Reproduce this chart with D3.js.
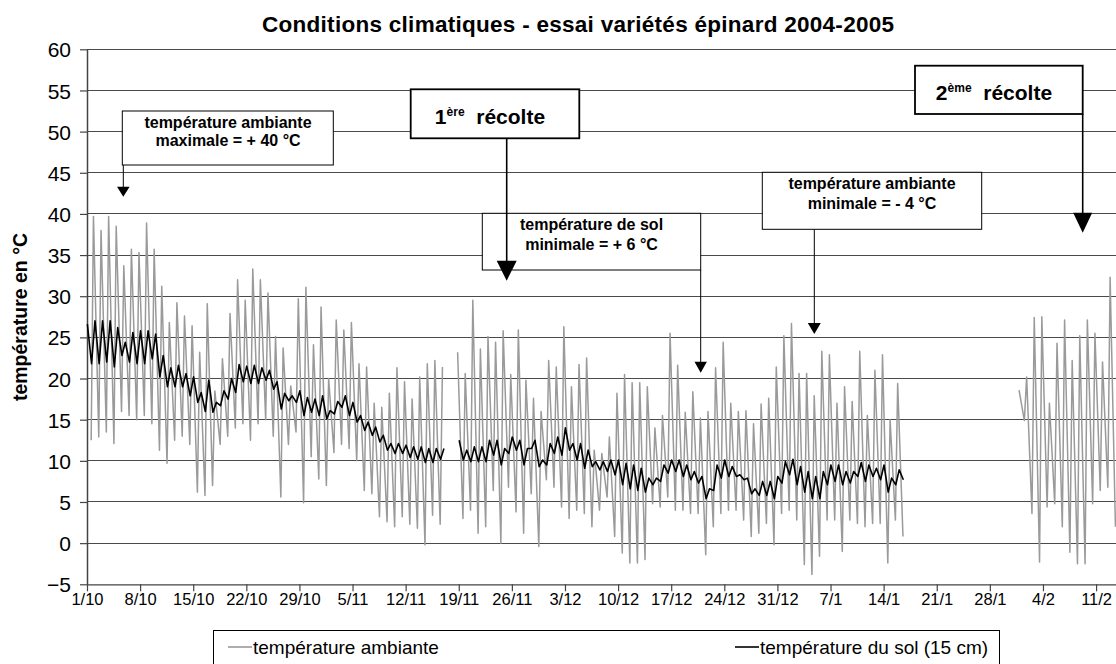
<!DOCTYPE html>
<html>
<head>
<meta charset="utf-8">
<script src="https://cdn.jsdelivr.net/npm/d3@7"></script>
<style>
  html, body { margin: 0; padding: 0; background: #fff; }
  svg { display: block; }
  text { font-family: "Liberation Sans", Arial, Helvetica, sans-serif; }
</style>
</head>
<body>
<svg id="chart" width="1116" height="664"></svg>
<script>
// ---------------- DATA ----------------
// x-axis week labels (one every 7 days starting 1/10)
const weekLabels = ["1/10","8/10","15/10","22/10","29/10","5/11","12/11","19/11","26/11","3/12",
  "10/12","17/12","24/12","31/12","7/1","14/1","21/1","28/1","4/2","11/2"];
const yTicks = [-5,0,5,10,15,20,25,30,35,40,45,50,55,60];

// Ambient temperature: daily max / min, days 0..107 (day 0 = 1/10)
const ambStart1 = 0;
const ambMax1 = [
  39.7, 38.0, 39.7, 38.5, 33.7, 35.7, 35.3, 38.9, 35.7, 31.2,
  26.8, 29.2, 27.6, 26.4, 23.2, 29.1, 18.5, 22.4, 27.9, 32.0,
  29.5, 33.3, 32.0, 30.4, 25.1, 23.7, 19.1, 29.7, 31.1, 24.1,
  28.7, 20.0, 27.1, 25.9, 26.8, 21.8, 21.4, 17.0, 16.5, 18.2,
  21.3, 19.6, 17.5, 20.2, 21.8, 22.2, 21.4, null,
  23.2, 20.6, 29.5, 23.6, 25.1, 24.4, 25.8, 20.5, 25.9, 19.8,
  17.6, 16.0, 22.2, 21.4, 26.3, 19.0, 21.7, 22.5, 11.3, 10.9,
  12.9, 18.2, 20.5, 19.5, 19.5, 19.0, 14.0, 15.5, 25.5, 21.6,
  15.9, 18.4, 15.2, 16.0, 21.3, 24.4, 17.0, 16.0, 16.1, 14.5,
  16.9, 17.6, 21.4, 25.2, 26.7, 20.6, 20.6, 17.9, 23.3, 22.9,
  17.0, 19.0, 17.2, 23.3, 15.5, 21.0, 22.9, 15.0, 19.4, null
];
const ambMin1 = [
  12.5, 12.9, 13.5, 12.1, 16.0, 15.5, 15.0, 15.5, 14.5, 11.3,
  9.7, 12.5, 13.0, 12.0, 6.2, 5.8, 7.0, 12.0, 13.0, 14.0,
  14.5, 12.5, 14.5, 15.0, 13.0, 5.6, 12.0, 13.5, 4.9, 10.5,
  7.8, 7.0, 11.0, 12.0, 11.5, 10.0, 6.4, 6.0, 3.2, 2.6,
  2.0, 3.2, 2.3, 1.8, -0.2, 3.4, 2.3, null, null,
  3.0, 4.0, 1.2, 2.0, 6.4, 0.0, 6.8, 3.8, 1.2, 6.0,
  -0.4, 7.7, 6.8, 4.4, 3.0, 4.0, 3.6, 2.0, 4.0, 5.6,
  0.8, -1.2, -2.4, -2.4, -2.0, 4.8, 4.4, 5.6, 4.0, 4.0,
  3.6, 3.6, -1.4, 2.0, 3.6, 4.0, 4.0, 2.8, 0.8, 1.2,
  2.4, -0.2, 3.6, 4.0, 2.8, -2.6, -3.8, -1.6, 2.8, 2.8,
  -1.0, 2.8, 2.4, 2.0, 2.4, 2.4, -2.4, 2.8, 0.8
];
// Ambient temperature, second series of records (from day 122 = 30/1)
const ambStart2 = 122;
const ambMax2 = [18.6, 20.2, 27.4, 27.5, 17.0, 24.3, 27.1, 22.2, 25.2, 27.1, 25.5, 22.0, 32.3, null];
const ambMin2 = [null, 14.9, 3.6, -2.3, 4.4, 4.8, 2.0, -1.1, -2.5, -2.5, 4.8, 6.4, 6.8, 2.0];

// Soil temperature (15 cm): daily peak / trough, days 0..107
const soilStart = 0;
const soilMax = [
  26.6, 27.0, 27.0, 27.0, 26.2, 24.4, 25.6, 25.8, 25.8, 25.4,
  22.8, 21.3, 21.6, 20.6, 20.2, 18.3, 19.8, 17.1, 18.5, 20.0,
  21.7, 21.5, 21.6, 21.3, 21.0, 19.6, 18.2, 17.9, 18.5, 17.7,
  17.5, 17.9, 16.1, 17.2, 17.9, 17.1, 15.5, 14.7, 14.1, 13.1,
  12.1, 12.1, 11.9, 11.7, 11.7, 11.5, 11.5, 11.5, null,
  12.5, 11.3, 11.7, 11.7, 12.5, 12.5, 11.5, 12.9, 12.5, 11.5,
  12.5, 10.1, 12.1, 12.9, 14.0, 12.1, 12.1, 11.3, 9.9, 9.9,
  10.1, 10.1, 9.7, 9.5, 9.1, 7.9, 7.9, 9.5, 10.1, 10.1,
  9.5, 8.7, 8.1, 6.6, 9.5, 10.1, 9.3, 8.3, 7.9, 6.6,
  7.5, 7.5, 8.1, 9.9, 10.2, 9.3, 8.7, 8.1, 8.7, 9.5,
  9.5, 8.7, 8.7, 9.8, 9.5, 9.1, 9.5, 7.9, 8.9
];
const soilMin = [
  21.8, 21.8, 22.0, 21.4, 22.8, 22.0, 21.8, 21.8, 22.4, 20.2,
  19.0, 19.0, 19.0, 17.9, 17.1, 16.0, 15.9, 16.7, 17.5, 18.3,
  19.6, 19.4, 19.4, 19.8, 18.7, 16.3, 17.3, 17.1, 15.5, 15.9,
  15.5, 15.1, 15.7, 16.5, 15.5, 14.7, 13.7, 13.1, 12.3, 11.3,
  10.9, 10.9, 10.4, 10.2, 9.8, 9.8, 10.2, null, null,
  10.1, 9.9, 9.9, 9.9, 10.7, 9.5, 10.9, 11.3, 9.5, 11.5,
  9.3, 9.5, 10.9, 10.7, 11.3, 10.1, 9.1, 9.3, 8.9, 8.7,
  8.3, 7.1, 6.6, 6.4, 6.2, 7.1, 7.5, 8.5, 8.7, 8.1,
  7.7, 7.3, 5.4, 6.4, 7.9, 8.1, 8.1, 7.7, 6.0, 5.8,
  5.8, 5.4, 7.3, 8.3, 7.1, 6.2, 5.4, 5.4, 7.1, 7.5,
  7.1, 7.3, 8.1, 7.5, 8.1, 7.7, 6.2, 7.1, 7.7
];

const seriesNames = ["température ambiante", "température du sol (15 cm)"];
const titleText = "Conditions climatiques - essai variétés épinard 2004-2005";
const yTitle = "température en °C";

// ---------------- LAYOUT ----------------
const svg = d3.select("#chart");
const W = 1116, H = 664;
const plotLeft = 87, pxPerDay = 7.587;
const x = d3.scaleLinear().domain([0, 140]).range([plotLeft, plotLeft + 140 * pxPerDay]);
const y = d3.scaleLinear().domain([-5, 60]).range([584.3, 49.3]);
const FONT = '"Liberation Sans", Arial, Helvetica, sans-serif';

// time of day offsets for daily extremes
const AMB_MIN_T = 0.55, AMB_MAX_T = 0.85, SOIL_MAX_T = 0.05, SOIL_MIN_T = 0.6;

function buildPts(start, mins, maxs, tMin, tMax) {
  const pts = [];
  const n = Math.max(mins.length, maxs.length);
  for (let i = 0; i < n; i++) {
    const d = start + i;
    const a = { t: d + tMin, v: mins[i] === undefined ? null : mins[i] };
    const b = { t: d + tMax, v: maxs[i] === undefined ? null : maxs[i] };
    if (tMin < tMax) pts.push(a, b); else pts.push(b, a);
  }
  return pts;
}

// gridlines
svg.append("g").selectAll("line").data(yTicks.filter(v => v > -5)).join("line")
  .attr("x1", plotLeft).attr("x2", W)
  .attr("y1", d => y(d)).attr("y2", d => y(d))
  .attr("stroke", "#4a4a4a").attr("stroke-width", 1).attr("shape-rendering", "crispEdges");

// x axis
const xAxis = d3.axisBottom(x)
  .tickValues(weekLabels.map((_, i) => i * 7))
  .tickFormat((d, i) => weekLabels[i])
  .tickSize(7).tickSizeOuter(0);
const gx = svg.append("g").attr("transform", `translate(0,${y(-5)})`).call(xAxis);
gx.select(".domain").attr("stroke", "#444").attr("stroke-width", 1.3).attr("d", `M${plotLeft},0.5H${W}`);
gx.selectAll(".tick line").attr("stroke", "#444").attr("stroke-width", 1.2);
gx.selectAll(".tick text").attr("font-family", FONT).attr("font-size", 16.5).attr("fill", "#000").attr("dy", "0.62em").attr("y", 10);

// y axis
const yAxis = d3.axisLeft(y).tickValues(yTicks).tickFormat(d3.format("d")).tickSize(7).tickSizeOuter(0);
const gy = svg.append("g").attr("transform", `translate(${plotLeft},0)`).call(yAxis);
gy.select(".domain").attr("stroke", "#444").attr("stroke-width", 1.5);
gy.selectAll(".tick line").attr("stroke", "#444").attr("stroke-width", 1.2);
gy.selectAll(".tick text").attr("font-family", FONT).attr("font-size", 21).attr("fill", "#000").attr("x", -16).attr("dy", "0.36em");

// series
const line = d3.line().defined(p => p.v !== null).x(p => x(p.t)).y(p => y(p.v));
const amb1 = buildPts(ambStart1, ambMin1, ambMax1, AMB_MIN_T, AMB_MAX_T);
const amb2 = buildPts(ambStart2, ambMin2, ambMax2, AMB_MIN_T, AMB_MAX_T);
const soil = buildPts(soilStart, soilMin, soilMax, SOIL_MIN_T, SOIL_MAX_T);

const gs = svg.append("g");
[amb1, amb2].forEach(pts => gs.append("path").datum(pts).attr("d", line)
  .attr("fill", "none").attr("stroke", "#9a9a9a").attr("stroke-width", 1.5).attr("stroke-linejoin", "round"));
gs.append("path").datum(soil).attr("d", line)
  .attr("fill", "none").attr("stroke", "#000").attr("stroke-width", 1.6).attr("stroke-linejoin", "round");

// title
svg.append("text").attr("x", 578).attr("y", 31.5).attr("text-anchor", "middle")
  .attr("font-family", FONT).attr("font-size", 22.5).attr("font-weight", "bold")
  .attr("textLength", 632).attr("lengthAdjust", "spacing").text(titleText);

// y title
svg.append("text").attr("transform", "translate(27,317) rotate(-90)").attr("text-anchor", "middle")
  .attr("font-family", FONT).attr("font-size", 19.5).attr("font-weight", "bold")
  .text(yTitle);

// ---------------- ANNOTATIONS ----------------
const ann = svg.append("g");
function box(x0, y0, x1, y1, sw) {
  ann.append("rect").attr("x", x0).attr("y", y0).attr("width", x1 - x0).attr("height", y1 - y0)
    .attr("fill", "#fff").attr("stroke", "#000").attr("stroke-width", sw);
}
function arrow(xc, y0, yTip, hw, hh, sw) {
  ann.append("line").attr("x1", xc).attr("x2", xc).attr("y1", y0).attr("y2", yTip - hh + 1)
    .attr("stroke", "#000").attr("stroke-width", sw);
  ann.append("path").attr("d", `M${xc - hw},${yTip - hh}L${xc + hw},${yTip - hh}L${xc},${yTip}Z`).attr("fill", "#000");
}
function label(lines, cx, baselines, size) {
  lines.forEach((t, i) => ann.append("text").attr("x", cx).attr("y", baselines[i]).attr("text-anchor", "middle")
    .attr("font-family", FONT).attr("font-size", size).attr("font-weight", "bold").text(t));
}
function recolte(num, sup, cx, base) {
  const t = ann.append("text").attr("x", cx).attr("y", base).attr("text-anchor", "middle")
    .attr("font-family", '"Comic Sans MS", "Liberation Sans", Arial, sans-serif').attr("font-weight", "bold").attr("font-size", 21);
  t.append("tspan").text(num);
  t.append("tspan").attr("font-size", 12).attr("dy", -8).text(sup);
  t.append("tspan").attr("dy", 8).text("\u00a0 récolte");
}

// box 1 : max ambient
arrow(123.3, 165, 196.7, 6.3, 10, 1);
box(122.3, 111, 333.3, 165, 1);
label(["température ambiante", "maximale = + 40 °C"], 228, [127.5, 146], 16);

// box 5 : min ambient
arrow(814.3, 229.3, 334, 6.5, 11, 1);
box(762.3, 172.3, 981.7, 229.3, 1);
label(["température ambiante", "minimale = - 4 °C"], 872, [188.5, 208.5], 16);

// box 3 : soil min
arrow(700.7, 270, 372.7, 6.2, 11, 1);
box(482.3, 213.3, 700.7, 270, 1);
label(["température de sol", "minimale = + 6 °C"], 591.5, [230, 249.5], 16);

// 1ère récolte (arrow passes through box 3)
arrow(506.7, 138.3, 280.7, 10, 20, 1.6);
box(410.7, 89.3, 579.3, 138.3, 1.8);
recolte("1", "ère", 490, 124);

// 2ème récolte
arrow(1082.7, 114, 232.7, 9.5, 20, 1.6);
box(915, 65.7, 1082.7, 114, 1.8);
recolte("2", "ème", 994, 100);

// ---------------- LEGEND ----------------
const lg = svg.append("g");
lg.append("rect").attr("x", 213.5).attr("y", 630.5).attr("width", 786).attr("height", 60)
  .attr("fill", "#fff").attr("stroke", "#000").attr("stroke-width", 1);
const legendItems = [
  { name: seriesNames[0], color: "#9a9a9a", x0: 228 },
  { name: seriesNames[1], color: "#000", x0: 735 }
];
legendItems.forEach(it => {
  lg.append("line").attr("x1", it.x0).attr("x2", it.x0 + 24).attr("y1", 647).attr("y2", 647)
    .attr("stroke", it.color).attr("stroke-width", 1.6);
  lg.append("text").attr("x", it.x0 + 25).attr("y", 653.5).attr("font-family", FONT).attr("font-size", 19)
    .attr("fill", "#000").text(it.name);
});
</script>
</body>
</html>
